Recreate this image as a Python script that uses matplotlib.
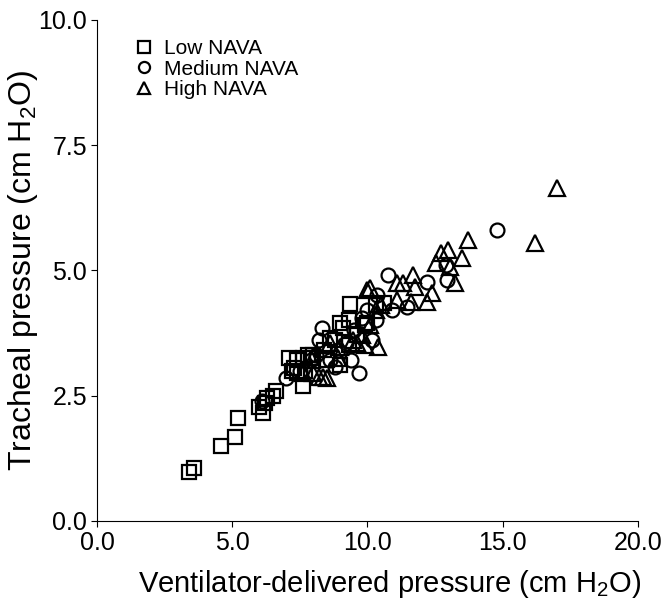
import matplotlib
matplotlib.use('Agg')
import matplotlib.pyplot as plt
from matplotlib.ticker import FormatStrFormatter

plt.rcParams['font.family'] = ['Liberation Sans', 'DejaVu Sans']
plt.rcParams['mathtext.fontset'] = 'custom'
plt.rcParams['mathtext.rm'] = 'Liberation Sans'
plt.rcParams['mathtext.it'] = 'Liberation Sans:italic'

# Low NAVA (squares)
low_x = [3.4, 3.6, 4.6, 5.1, 5.2, 6.0, 6.15, 6.2, 6.3, 6.5, 6.6, 7.1, 7.3, 7.4,
         7.6, 7.6, 7.8, 7.4, 7.7, 8.0, 8.4, 8.6, 8.8, 9.0, 9.1, 9.3, 9.35, 9.6,
         9.9, 10.0, 10.3, 10.6, 9.0, 9.3, 8.5, 7.2, 7.9]
low_y = [0.98, 1.06, 1.5, 1.68, 2.05, 2.28, 2.15, 2.35, 2.45, 2.5, 2.6, 3.25,
         3.05, 3.2, 2.7, 3.25, 3.3, 2.95, 3.0, 3.3, 3.4, 3.65, 3.6, 3.95, 3.85,
         4.0, 4.33, 3.7, 3.9, 3.95, 4.3, 4.35, 3.1, 3.5, 3.2, 3.0, 3.25]

# Medium NAVA (circles)
med_x = [6.1, 7.0, 7.5, 7.9, 8.1, 8.2, 8.6, 8.8, 9.4, 9.7, 10.75, 10.35, 10.9,
         11.45, 12.2, 10.3, 10.15, 12.9, 12.95, 14.8, 8.3, 9.5, 9.8, 8.9, 9.2,
         10.0]
med_y = [2.4, 2.85, 3.0, 3.2, 3.3, 3.6, 3.2, 3.07, 3.2, 2.95, 4.9, 4.5, 4.2,
         4.27, 4.77, 4.0, 3.6, 5.1, 4.8, 5.8, 3.85, 3.8, 4.05, 3.4, 3.55, 4.2]

# High NAVA (triangles)
high_x = [17.0, 16.2, 13.7, 13.5, 12.98, 12.7, 12.55, 13.05, 13.25, 11.7,
          11.75, 12.4, 12.2, 11.6, 11.3, 11.1, 10.1, 11.1, 10.4, 8.35, 8.0,
          9.0, 9.45, 8.5, 8.2, 8.9, 7.95, 7.6, 8.6, 9.6, 9.9, 10.1, 10.3, 10.0,
          10.5, 9.8]
high_y = [6.65, 5.55, 5.6, 5.25, 5.4, 5.35, 5.15, 5.07, 4.75, 4.9, 4.67, 4.55,
          4.37, 4.37, 4.75, 4.75, 4.65, 4.4, 3.47, 2.87, 2.95, 3.47, 3.6, 2.85,
          2.88, 3.25, 3.2, 2.95, 3.55, 3.55, 3.5, 3.9, 4.2, 4.6, 4.3, 3.7]

fig = plt.figure(figsize=(6.66, 6.0), dpi=100)
ax = fig.add_axes([0.1456, 0.132, 0.8124, 0.835])

mk = dict(markerfacecolor='none', markeredgecolor='black', markeredgewidth=1.6,
          linestyle='none', color='black')
ax.plot(low_x, low_y, marker='s', markersize=10, label='Low NAVA', **mk)
ax.plot(med_x, med_y, marker='o', markersize=10, label='Medium NAVA', **mk)
ax.plot(high_x, high_y, marker='^', markersize=11, label='High NAVA', **mk)

ax.set_xlim(0, 20)
ax.set_ylim(0, 10)
ax.set_xticks([0, 5, 10, 15, 20])
ax.set_yticks([0, 2.5, 5, 7.5, 10])
ax.xaxis.set_major_formatter(FormatStrFormatter('%.1f'))
ax.yaxis.set_major_formatter(FormatStrFormatter('%.1f'))
ax.tick_params(labelsize=18, length=4, width=0.8, direction='out', pad=3)
for s in ['top', 'right']:
    ax.spines[s].set_visible(False)
for s in ['left', 'bottom']:
    ax.spines[s].set_linewidth(0.8)

ax.set_xlabel(r'Ventilator-delivered pressure (cm H$_2$O)', fontsize=21,
              va='center')
ax.xaxis.set_label_coords(0.54, -0.127)
ax.set_ylabel(r'Tracheal pressure (cm H$_2$O)', fontsize=23, va='center')
ax.yaxis.set_label_coords(-0.137, 0.5)

leg = ax.legend(loc='upper left', bbox_to_anchor=(0.068, 0.962), frameon=False,
                fontsize=15, markerscale=0.8, handlelength=1.0,
                handletextpad=0.45, labelspacing=0.08, borderaxespad=0,
                borderpad=0)

fig.savefig('out.png', dpi=100)
